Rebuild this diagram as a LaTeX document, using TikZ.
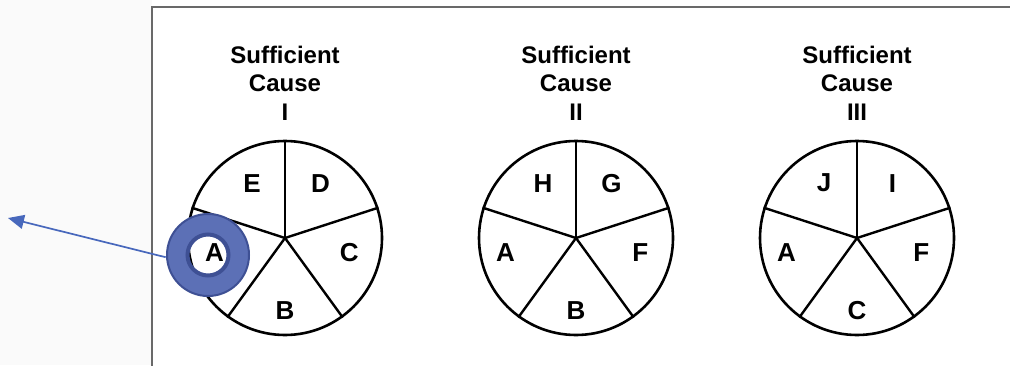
\documentclass[tikz,border=0pt]{standalone}
\usepackage{fontspec}
\setmainfont{Liberation Sans}
\usetikzlibrary{arrows.meta}
\definecolor{ringblue}{RGB}{92,112,182}
\definecolor{ringedge}{RGB}{62,80,148}
\definecolor{arrowblue}{RGB}{72,104,188}
\definecolor{framegray}{RGB}{105,105,105}

\begin{document}
\begin{tikzpicture}
[
    x=0.5pt, y=0.5pt,
    pie/.style={circle, draw=black, line width=1.3pt, minimum size=97pt, inner sep=0pt},
    spoke/.style={black, line width=1.2pt},
    title/.style={align=center, font=\fontsize{12}{14.25}\selectfont\bfseries},
    letter/.style={font=\fontsize{13}{15}\selectfont\bfseries, inner sep=0pt},
    ring/.style={circle, minimum size=42pt, inner sep=0pt},
    pointer/.style={arrowblue, line width=0.85pt, -{Triangle[length=8pt, width=7pt]}},
]
\clip (0,0) rectangle (1010,365);
\fill[white] (0,0) rectangle (1010,365);
\fill[black!2] (0,0) rectangle (152,365);
\draw[framegray, line width=1pt] (152,-10) |- (1020,358);
\foreach \i/\cx/\nm/\la/\lb/\lc/\ld/\le in {1/285/I/E/D/C/B/A, 2/576/II/H/G/F/B/A, 3/857/III/J/I/F/C/A}
{
    \node[title] (t\i) at (\cx,282) {Sufficient\\Cause\\\nm};
    \node[pie] (c\i) at (\cx,127) {};
    \foreach \a in {90,18,-54,-126,162}
        \draw[spoke] (c\i.center) -- (c\i.\a);
    \node[letter] (c\i-\la) at ([shift={(121:64)}]c\i.center) {\la};
    \node[letter] (c\i-\lb) at ([shift={(57:65)}]c\i.center) {\lb};
    \node[letter] (c\i-\lc) at ([shift={(-13:66)}]c\i.center) {\lc};
    \node[letter] (c\i-\ld) at ([shift={(-90:73)}]c\i.center) {\ld};
    \node[letter] (c\i-\le) at ([shift={(192:72)}]c\i.center) {\le};
}
\node[ring] (hl) at (208,110) {};
\fill[ringblue, even odd rule] (hl.center) circle (41) circle (21);
\draw[ringedge, line width=1pt] (hl.center) circle (41);
\draw[ringedge, line width=2pt] (hl.center) circle (20.5);
\coordinate (tip) at (8,147);
\draw[pointer] (hl.183) -- (tip);
\end{tikzpicture}
\end{document}
